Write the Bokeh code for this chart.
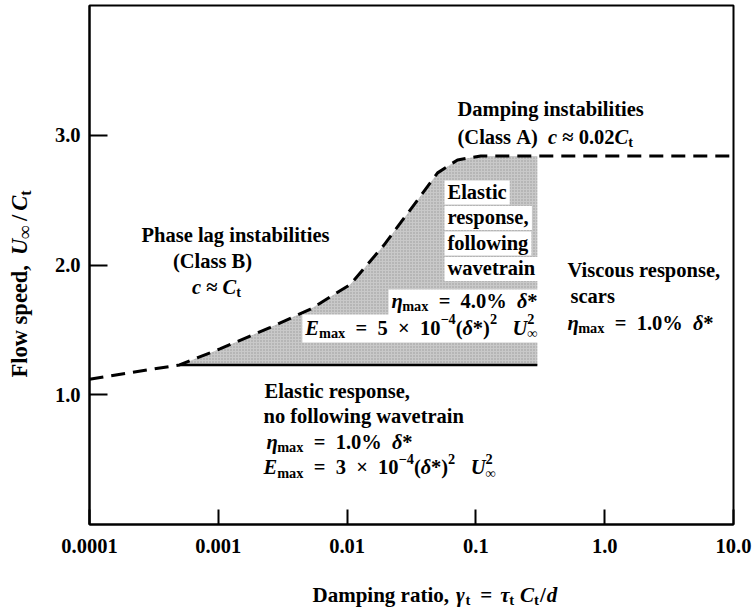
import math
from bokeh.plotting import figure
from bokeh.layouts import row, column
from bokeh.models import Label, FixedTicker, CustomJSTickFormatter, PrintfTickFormatter, Range1d
from bokeh.embed import file_html
from bokeh.resources import INLINE

# ---------------- data ----------------
curve_x = [1e-4, 5.0e-4, 1.04e-3, 2.54e-3, 5.2e-3, 0.0106, 0.0192, 0.0352, 0.0504, 0.072, 0.109, 10.0]
curve_y = [1.12, 1.23, 1.355, 1.52, 1.66, 1.85, 2.15, 2.50, 2.71, 2.81, 2.84, 2.84]
floor_y = 1.23          # lower edge of shaded region (solid line)
shade_x_start = 5.0e-4
shade_x_end = 0.3
x_ticks = [1e-4, 1e-3, 1e-2, 1e-1, 1.0, 10.0]
x_tick_labels = ["0.0001", "0.001", "0.01", "0.1", "1.0", "10.0"]
y_ticks = [1.0, 2.0, 3.0]
XMIN, XMAX = 1e-4, 10.0
YMIN, YMAX = 0.0, 4.0

# ---------------- layout ----------------
W, H = 755, 608
LW, BH = 40, 33                     # left strip (y title) and bottom strip (x title)
PW, PH = W - LW, H - BH             # main figure size
FL, FR, FT, FB = 89, 733, 5, 524    # frame edges in page pixels
FONT = "Liberation Serif"
FS = 20.5
SUB = 0.7
SHIFT = 6                           # baseline correction for labels (px)

p = figure(width=PW, height=PH, x_axis_type="log",
           x_range=Range1d(XMIN * 0.9999, XMAX * 1.0001), y_range=Range1d(YMIN, YMAX),
           output_backend="svg", toolbar_location=None,
           min_border_left=FL - LW, min_border_right=W - FR, min_border_top=FT, min_border_bottom=PH - FB)
p.grid.visible = False
p.outline_line_color = "black"
p.outline_line_width = 2
p.background_fill_color = "white"
p.border_fill_color = "white"

for ax in (p.xaxis[0], p.yaxis[0]):
    ax.axis_line_width = 2
    ax.major_tick_line_width = 2
    ax.major_tick_out = 0
    ax.minor_tick_in = 0
    ax.minor_tick_out = 0
    ax.major_label_text_font = FONT
    ax.major_label_text_font_style = "bold"
    ax.major_label_text_font_size = f"{FS}px"
    ax.major_label_text_color = "black"
    ax.axis_label = None

p.xaxis.ticker = FixedTicker(ticks=x_ticks)
p.xaxis.formatter = CustomJSTickFormatter(args=dict(vals=x_ticks, labs=x_tick_labels), code="""
    for (let i = 0; i < vals.length; i++) {
        if (Math.abs(Math.log10(vals[i]) - Math.log10(tick)) < 1e-6) return labs[i];
    }
    return "";
""")
p.xaxis.major_tick_in = 15
p.xaxis.major_label_standoff = 14
p.yaxis.ticker = FixedTicker(ticks=y_ticks)
p.yaxis.formatter = PrintfTickFormatter(format="%.1f")
p.yaxis.major_tick_in = 18
p.yaxis.major_label_standoff = 9

# ---------------- shaded region ----------------
sx = [x for x in curve_x if shade_x_start <= x < shade_x_end]
sy = [y for x, y in zip(curve_x, curve_y) if shade_x_start <= x < shade_x_end]
sx = sx + [shade_x_end, shade_x_end]
sy = sy + [curve_y[-1], floor_y]
p.patch(sx, sy, fill_color="#c9c9c9", line_color=None,
        hatch_pattern="dot", hatch_color="#777777", hatch_scale=3, hatch_weight=1, hatch_alpha=0.6)

# boundary lines
p.line(curve_x, curve_y, line_color="black", line_width=3, line_dash="14 8")
p.line([shade_x_start, shade_x_end], [floor_y, floor_y], line_color="black", line_width=2.5)

# ---------------- rich text helpers ----------------
WB = {' ': .25, '(': .333, ')': .333, ',': .25, '.': .25, '/': .278, '=': .57, '%': 1.0, '*': .5,
      '≈': .549, '×': .57, '−': .57, '∞': .713,
      'A': .722, 'B': .667, 'C': .722, 'D': .722, 'E': .667, 'F': .611, 'P': .611, 'U': .722, 'V': .722,
      'a': .5, 'b': .556, 'c': .444, 'd': .556, 'e': .444, 'f': .333, 'g': .5, 'h': .556, 'i': .278,
      'k': .556, 'l': .278, 'm': .833, 'n': .556, 'o': .5, 'p': .556, 'r': .444, 's': .389, 't': .333,
      'u': .556, 'v': .5, 'w': .722, 'x': .5, 'y': .5, 'η': .52, 'δ': .5, 'γ': .45, 'τ': .42}
WI = {'c': .444, 'C': .667, 'E': .667, 'U': .722, 'd': .5, 'η': .52, 'δ': .5, 'γ': .45, 'τ': .42}


def seg_props(kind, fs):
    if kind == "b":
        return "bold", fs, 0.0, True
    if kind == "i":
        return "bold italic", fs, 0.0, True
    if kind == "sub":
        return "bold", fs * SUB, -0.27 * fs, True
    if kind == "subL":
        return "bold", fs * 0.85, -0.22 * fs, True
    if kind == "sup":
        return "bold", fs * SUB, 0.40 * fs, True
    if kind == "sup0":
        return "bold", fs * SUB, 0.40 * fs, False
    raise ValueError(kind)


def text_w(text, kind, size):
    tbl = WI if kind == "i" else WB
    return sum(tbl.get(ch, WB.get(ch, 0.5)) for ch in text) * size


def rich(fig, segs, x, y, align="left", angle=0.0, fs=FS):
    items = []
    total = 0.0
    for text, kind in segs:
        if kind.startswith("gap"):
            items.append((None, None, None, None, True, float(kind[3:])))
            total += float(kind[3:])
            continue
        style, size, d, adv = seg_props(kind, fs)
        w = text_w(text, kind, size)
        items.append((text, style, size, d, adv, w))
        if adv:
            total += w
    off0 = {"left": 0.0, "center": -total / 2, "right": -total}[align]
    off = off0
    for text, style, size, d, adv, w in items:
        if text is not None:
            if angle == 0:
                xo, yo = off, d + SHIFT
            else:
                xo, yo = -(d + SHIFT), off
            fig.add_layout(Label(x=x, y=y, x_offset=xo, y_offset=yo, text=text.replace(" ", "\u00a0"),
                                 angle=angle, text_font=FONT, text_font_style=style,
                                 text_font_size=f"{size:.1f}px", text_align="left",
                                 text_baseline="alphabetic", text_color="black"))
        if adv:
            off += w
    return off0, total


def dx(px):
    lo, hi = math.log10(XMIN), math.log10(XMAX)
    return 10 ** (lo + (px - FL) / (FR - FL) * (hi - lo))


def dy(py):
    return YMIN + (FB - py) / (FB - FT) * (YMAX - YMIN)


def text_at(segs, px, py, align="left", box=None):
    """Place a rich line in the main plot at page pixel position (px, baseline py)."""
    off0, total = rich(p, segs, dx(px), dy(py), align=align)
    if box is not None:
        up, down = box
        p.quad(left=[dx(px + off0 - 3)], right=[dx(px + off0 + total + 3)],
               top=[dy(py - up)], bottom=[dy(py + down)], fill_color="white", line_color=None)


LH = 25.5  # line spacing in px


def eta_line(val):
    return [("η", "i"), ("max", "sub"), ("  =  " + val + "%  ", "b"), ("δ", "i"), ("*", "b")]


def e_line(val):
    return [("E", "i"), ("max", "sub"), ("  =  " + val + "  ×  10", "b"), ("−4", "sup"), ("(", "b"),
            ("δ", "i"), ("*", "b"), (")", "b"), ("2", "sup"), ("   ", "b"), ("U", "i"),
            ("2", "sup0"), ("∞", "sub")]


# Phase lag block (centered)
text_at([("Phase lag instabilities", "b")], 235, 240, align="center")
text_at([("(Class B)", "b")], 212, 266, align="center")
text_at([("c", "i"), (" ≈ ", "b"), ("C", "i"), ("t", "sub")], 216, 292, align="center")

# Damping instabilities block
text_at([("Damping instabilities", "b")], 457, 114)
text_at([("(Class A)  ", "b"), ("c", "i"), (" ≈ 0.02", "b"), ("C", "i"), ("t", "sub")], 457, 142)

# Shaded-region block (text on white boxes)
for k, t in enumerate(["Elastic", "response,", "following", "wavetrain"]):
    text_at([(t, "b")], 447, 197 + k * LH, box=(17, 7))
text_at(eta_line("4.0"), 537, 306, align="right", box=(17, 9))
text_at(e_line("5"), 537, 333, align="right", box=(19, 9))

# Elastic response, no following wavetrain
text_at([("Elastic response,", "b")], 264, 396)
text_at([("no following wavetrain", "b")], 263, 396 + LH)
text_at(eta_line("1.0"), 266, 396 + 2 * LH)
text_at(e_line("3"), 263, 396 + 3 * LH)

# Viscous block
text_at([("Viscous response,", "b")], 567, 275)
text_at([("scars", "b")], 570, 301)
text_at(eta_line("1.0"), 567, 328)

# ---------------- axis titles in side strips ----------------
# the bottom strip's frame is aligned with the main frame by the column layout
fx = figure(width=PW, height=BH, x_range=Range1d(FL, FR), y_range=Range1d(0, BH),
            x_axis_location=None, y_axis_location=None, min_border=0,
            output_backend="svg", toolbar_location=None)
fx.outline_line_color = None
fx.grid.visible = False
rich(fx, [("Damping ratio,", "b"), ("", "gap7"), ("γ", "i"), ("t", "sub"), ("", "gap10"), ("=", "b"),
          ("", "gap8"), ("τ", "i"), ("t", "sub"), ("", "gap6"), ("C", "i"), ("t", "sub"),
          ("", "gap1"), ("/", "b"), ("", "gap1"), ("d", "i")],
     312, H - 600, align="left", fs=21)

fy = figure(width=LW, height=H, x_range=Range1d(0, LW), y_range=Range1d(0, H),
            x_axis_location=None, y_axis_location=None, min_border=0,
            output_backend="svg", toolbar_location=None)
fy.outline_line_color = None
fy.grid.visible = False
rich(fy, [("Flow speed,", "b"), ("", "gap10"), ("U", "i"), ("∞", "subL"), ("", "gap4"), ("/", "b"),
          ("", "gap4"), ("C", "i"), ("t", "sub")],
     25, H - 377, align="left", angle=math.pi / 2, fs=22.5)

layout = row(fy, column(p, fx))
open("out.html", "w").write(file_html(layout, INLINE))
